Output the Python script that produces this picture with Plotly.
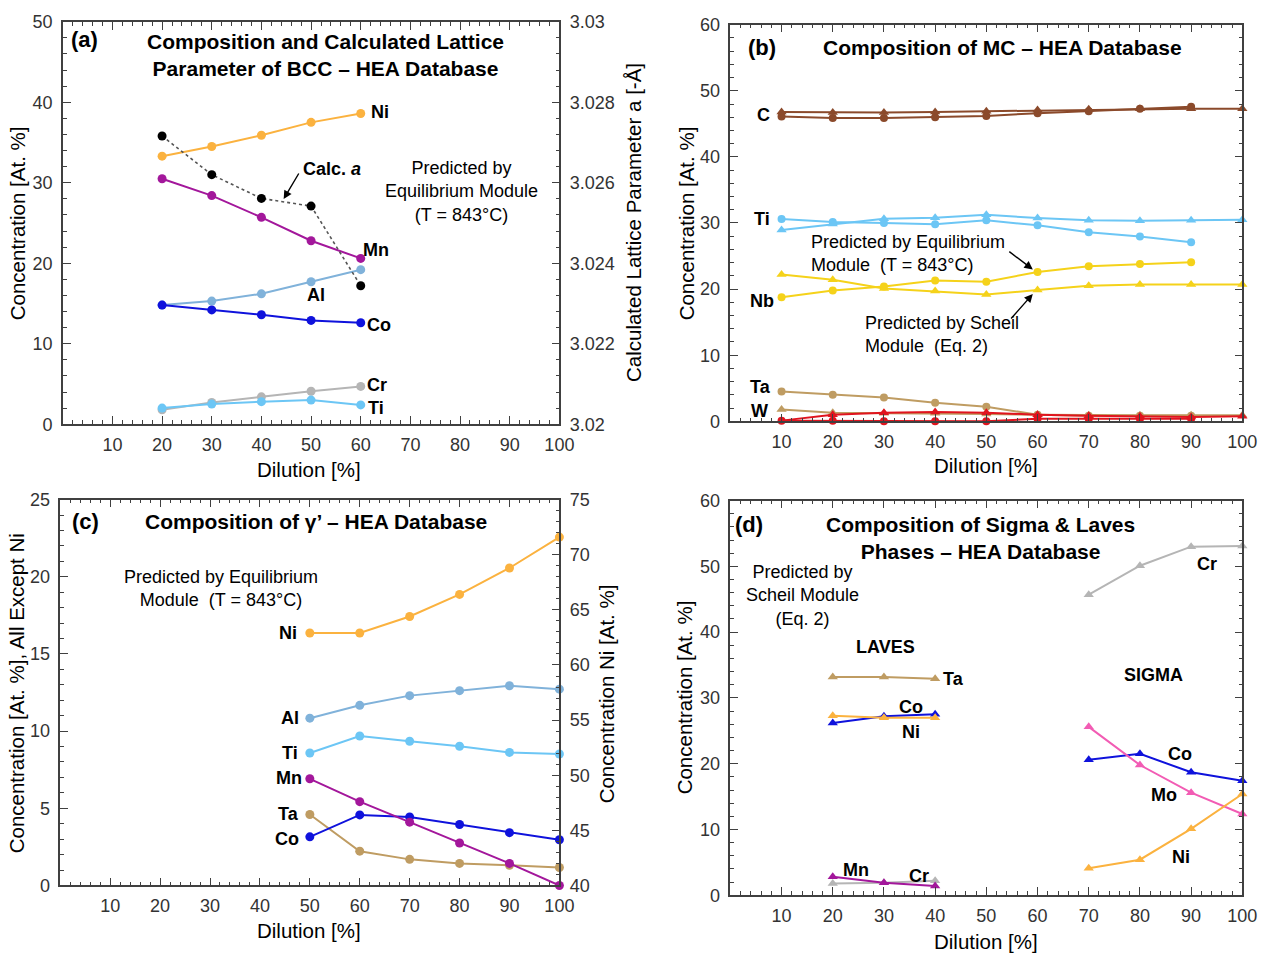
import plotly.graph_objects as go

W, H = 1284, 964
FONT = "Liberation Sans, Arial, sans-serif"

# ---------------- data ----------------
a_x = [20, 30, 40, 50, 60]
a_Ni = [33.3, 34.5, 35.9, 37.5, 38.6]
a_Mn = [30.5, 28.4, 25.7, 22.8, 20.6]
a_Al = [14.8, 15.3, 16.2, 17.7, 19.2]
a_Co = [14.8, 14.2, 13.6, 12.9, 12.6]
a_Cr = [1.8, 2.7, 3.4, 4.1, 4.7]
a_Ti = [2.0, 2.5, 2.8, 3.0, 2.4]
a_lat = [3.02716, 3.02620, 3.02561, 3.02542, 3.02344]

b_x_eq = [10, 20, 30, 40, 50, 60, 70, 80, 90]
b_x_sch = [10, 20, 30, 40, 50, 60, 70, 80, 90, 100]
b_C_eq = [46.1, 45.9, 45.9, 46.0, 46.2, 46.6, 46.9, 47.3, 47.6]
b_C_sch = [46.8, 46.7, 46.7, 46.8, 46.9, 47.1, 47.2, 47.3, 47.3, 47.3]
b_Ti_eq = [30.6, 30.15, 30.0, 29.8, 30.4, 29.65, 28.6, 27.95, 27.1]
b_Ti_sch = [28.95, 29.85, 30.65, 30.8, 31.25, 30.75, 30.4, 30.35, 30.4, 30.5]
b_Nb_eq = [18.75, 19.8, 20.4, 21.3, 21.1, 22.6, 23.45, 23.8, 24.05]
b_Nb_sch = [22.2, 21.4, 20.1, 19.7, 19.2, 19.85, 20.5, 20.7, 20.7, 20.7]
b_Ta_eq = [4.5, 4.0, 3.6, 2.8, 2.2, 1.0, 0.85, 0.85, 0.85]
b_Ta_sch = [1.8, 1.3, 1.2, 1.2, 1.1, 1.0, 0.9, 0.9, 0.9, 0.9]
b_W_eq = [0.1, 0.1, 0.0, 0.0, 0.0, 0.4, 0.4, 0.4, 0.4]
b_W_sch = [0.1, 1.0, 1.3, 1.4, 1.3, 1.0, 0.85, 0.75, 0.65, 0.75]

c_x = [50, 60, 70, 80, 90, 100]
c_Ni = [62.9, 62.9, 64.4, 66.4, 68.8, 71.6]
c_Al = [10.84, 11.67, 12.3, 12.62, 12.94, 12.72]
c_Ti = [8.58, 9.68, 9.34, 9.02, 8.62, 8.52]
c_Mn = [6.91, 5.43, 4.1, 2.75, 1.43, 0.0]
c_Ta = [4.6, 2.22, 1.69, 1.43, 1.31, 1.16]
c_Co = [3.15, 4.57, 4.44, 3.95, 3.42, 2.96]

d_x_laves = [20, 30, 40]
d_Ta_L = [33.2, 33.2, 32.9]
d_Co_L = [26.2, 27.2, 27.5]
d_Ni_L = [27.3, 27.0, 27.0]
d_Mn_L = [2.8, 1.9, 1.4]
d_Cr_L = [1.8, 1.9, 2.2]
d_x_sigma = [70, 80, 90, 100]
d_Cr_S = [45.7, 50.1, 53.0, 53.1]
d_Co_S = [20.6, 21.5, 18.7, 17.4]
d_Mo_S = [25.6, 19.8, 15.6, 12.35]
d_Ni_S = [4.1, 5.4, 10.1, 15.4]

x_ticks = [10, 20, 30, 40, 50, 60, 70, 80, 90, 100]

# ---------------- colours ----------------
C_NI = "#FBB23F"
C_MN = "#A3179B"
C_AL = "#80B2DA"
C_CO = "#0F12DC"
C_CR = "#B5B5B5"
C_TI = "#6CC6F5"
C_C = "#8B4A2B"
C_NB = "#F5D21A"
C_TA = "#BF9C62"
C_W = "#E0141E"
C_MO = "#F25CB4"
AX = "#404040"

fig = go.Figure()


def line(x, y, color, xa, ya, symbol="circle", size=9, dash="solid", lcolor=None, width=2):
    fig.add_trace(go.Scatter(
        x=x, y=y, xaxis=xa, yaxis=ya, mode="lines+markers", cliponaxis=False,
        line=dict(color=lcolor or color, width=width, dash=dash),
        marker=dict(color=color, size=size, symbol=symbol),
        showlegend=False, hoverinfo="skip"))


# panel a
line(a_x, a_lat, "black", "x", "y2", dash="dot", lcolor="#555555", width=1.6)
line(a_x, a_Ni, C_NI, "x", "y")
line(a_x, a_Mn, C_MN, "x", "y")
line(a_x, a_Al, C_AL, "x", "y")
line(a_x, a_Co, C_CO, "x", "y")
line(a_x, a_Cr, C_CR, "x", "y")
line(a_x, a_Ti, C_TI, "x", "y")

# panel b
for xs, ys, col, sym in [
    (b_x_eq, b_C_eq, C_C, "circle"), (b_x_sch, b_C_sch, C_C, "triangle-up"),
    (b_x_eq, b_Ti_eq, C_TI, "circle"), (b_x_sch, b_Ti_sch, C_TI, "triangle-up"),
    (b_x_eq, b_Nb_eq, C_NB, "circle"), (b_x_sch, b_Nb_sch, C_NB, "triangle-up"),
    (b_x_eq, b_Ta_eq, C_TA, "circle"), (b_x_sch, b_Ta_sch, C_TA, "triangle-up"),
    (b_x_eq, b_W_eq, C_W, "circle"), (b_x_sch, b_W_sch, C_W, "triangle-up"),
]:
    line(xs, ys, col, "x2", "y3", symbol=sym, size=8 if sym == "circle" else 9)

# panel c
line(c_x, c_Ni, C_NI, "x3", "y5")
line(c_x, c_Al, C_AL, "x3", "y4")
line(c_x, c_Ti, C_TI, "x3", "y4")
line(c_x, c_Ta, C_TA, "x3", "y4")
line(c_x, c_Co, C_CO, "x3", "y4")
line(c_x, c_Mn, C_MN, "x3", "y4")

# panel d
T = "triangle-up"
line(d_x_laves, d_Ta_L, C_TA, "x4", "y6", symbol=T)
line(d_x_laves, d_Co_L, C_CO, "x4", "y6", symbol=T)
line(d_x_laves, d_Ni_L, C_NI, "x4", "y6", symbol=T)
line(d_x_laves, d_Cr_L, C_CR, "x4", "y6", symbol=T)
line(d_x_laves, d_Mn_L, C_MN, "x4", "y6", symbol=T)
line(d_x_sigma, d_Cr_S, C_CR, "x4", "y6", symbol=T)
line(d_x_sigma, d_Co_S, C_CO, "x4", "y6", symbol=T)
line(d_x_sigma, d_Mo_S, C_MO, "x4", "y6", symbol=T)
line(d_x_sigma, d_Ni_S, C_NI, "x4", "y6", symbol=T)


# ---------------- axes ----------------
def dom_x(l, r):
    return [l / W, r / W]


def dom_y(t, b):
    return [1 - b / H, 1 - t / H]


tickfont = dict(family=FONT, size=18, color="#333333")


def xax(domain, anchor):
    return dict(domain=domain, anchor=anchor, range=[0, 100], tickvals=x_ticks,
                showline=True, linecolor=AX, linewidth=1.5, mirror="ticks",
                ticks="inside", ticklen=8, tickcolor=AX, tickwidth=1.2,
                minor=dict(ticks="inside", dtick=2, ticklen=4, tickcolor=AX),
                showgrid=False, zeroline=False, tickfont=tickfont,
                ticklabelstandoff=3)


def yax(domain, anchor, rng, dtick, mdt, mirror="ticks", **kw):
    d = dict(domain=domain, anchor=anchor, range=rng, dtick=dtick, tick0=rng[0],
             showline=True, linecolor=AX, linewidth=1.5, mirror=mirror,
             ticks="inside", ticklen=8, tickcolor=AX, tickwidth=1.2,
             minor=dict(ticks="inside", dtick=mdt, ticklen=4, tickcolor=AX),
             showgrid=False, zeroline=False, tickfont=tickfont,
             ticklabelstandoff=5)
    d.update(kw)
    return d


A_X, A_Y = dom_x(63.5, 566), dom_y(12, 423)
B_X, B_Y = dom_x(739, 1257), dom_y(15, 420)
C_X, C_Y = dom_x(61, 566), dom_y(500, 894)
D_X, D_Y = dom_x(739, 1257), dom_y(501, 904)

fig.update_layout(
    width=W, height=H, margin=dict(l=0, r=0, t=0, b=0),
    paper_bgcolor="white", plot_bgcolor="white",
    font=dict(family=FONT, color="black"),
    xaxis=xax(A_X, "y"),
    yaxis=yax(A_Y, "x", [0, 50], 10, 2, mirror=False),
    yaxis2=yax(A_Y, "x", [3.02, 3.03], 0.002, 0.0004, mirror=False,
               overlaying="y", side="right",
               tickvals=[3.02, 3.022, 3.024, 3.026, 3.028, 3.03],
               ticktext=["3.02", "3.022", "3.024", "3.026", "3.028", "3.03"]),
    xaxis2=xax(B_X, "y3"),
    yaxis3=yax(B_Y, "x2", [0, 60], 10, 2),
    xaxis3=xax(C_X, "y4"),
    yaxis4=yax(C_Y, "x3", [0, 25], 5, 1, mirror=False),
    yaxis5=yax(C_Y, "x3", [40, 75], 5, 1, mirror=False, overlaying="y4", side="right"),
    xaxis4=xax(D_X, "y6"),
    yaxis6=yax(D_Y, "x4", [0, 60], 10, 2),
)

# ---------------- annotations ----------------
anns = []
LBL = 18     # element labels
NOTE = 18    # plain notes
TTL = 21     # panel titles
AXT = 20.5   # axis titles


def txt(px, py, text, size=17, bold=False, angle=0, xanchor="center", align="center"):
    t = f"<b>{text}</b>" if bold else text
    anns.append(dict(x=px / W, y=1 - py / H, xref="paper", yref="paper", text=t,
                     showarrow=False, xanchor=xanchor, yanchor="middle", align=align,
                     textangle=angle, font=dict(family=FONT, size=size, color="black")))


def arrow(x0, y0, x1, y1):
    anns.append(dict(x=x1 / W, y=1 - y1 / H, ax=x0 - x1, ay=y0 - y1,
                     xref="paper", yref="paper", axref="pixel", ayref="pixel",
                     text="", showarrow=True, arrowhead=2, arrowsize=1.2,
                     arrowwidth=1.4, arrowcolor="black"))


# axis titles
txt(18, 218, "Concentration [At. %]", size=AXT, angle=-90)
txt(641, 217, "Calculated Lattice Parameter a [-Å]", size=AXT, angle=-90)
txt(313, 469, "Dilution [%]", size=AXT)
txt(695, 218, "Concentration [At. %]", size=AXT, angle=-90)
txt(998, 465, "Dilution [%]", size=AXT)
txt(17, 698, "Concentration [At. %], All Except Ni", size=AXT, angle=-90)
txt(614, 698, "Concentration Ni [At. %]", size=AXT, angle=-90)
txt(313, 940, "Dilution [%]", size=AXT)
txt(693, 702, "Concentration [At. %]", size=AXT, angle=-90)
txt(998, 951, "Dilution [%]", size=AXT)

# panel a
txt(86, 30, "(a)", size=22, bold=True)
txt(329, 46, "Composition and Calculated Lattice<br>Parameter of BCC – HEA Database", size=TTL, bold=True)
txt(467, 185, "Predicted by<br>Equilibrium Module<br>(T = 843°C)", size=NOTE)
txt(336, 162, "Calc. <i>a</i>", size=LBL, bold=True)
arrow(303, 166, 287, 193)
for px, py, t in [(384, 104, "Ni"), (380, 245, "Mn"), (320, 291, "Al"),
                  (383, 322, "Co"), (381, 383, "Cr"), (380, 406, "Ti")]:
    txt(px, py, t, size=LBL, bold=True)

# panel b
txt(771, 38, "(b)", size=22, bold=True)
txt(1014, 38, "Composition of MC – HEA Database", size=TTL, bold=True)
for px, py, t in [(773, 107, "C"), (771, 213, "Ti"), (771, 297, "Nb"),
                  (769, 385, "Ta"), (768, 410, "W")]:
    txt(px, py, t, size=LBL, bold=True)
txt(819, 249, "Predicted by Equilibrium<br>Module  (T = 843°C)", size=NOTE, xanchor="left", align="left")
arrow(1020, 246, 1045, 265)
txt(873, 331, "Predicted by Scheil<br>Module  (Eq. 2)", size=NOTE, xanchor="left", align="left")
arrow(1022, 316, 1045, 290)

# panel c
txt(87, 522, "(c)", size=22, bold=True)
txt(320, 522, "Composition of γ’ – HEA Database", size=TTL, bold=True)
txt(224, 591, "Predicted by Equilibrium<br>Module  (T = 843°C)", size=NOTE)
for px, py, t in [(291, 636, "Ni"), (293, 723, "Al"), (293, 759, "Ti"),
                  (292, 784, "Mn"), (292, 821, "Ta"), (290, 847, "Co")]:
    txt(px, py, t, size=LBL, bold=True)

# panel d
txt(758, 525, "(d)", size=22, bold=True)
txt(992, 539, "Composition of Sigma & Laves<br>Phases – HEA Database", size=TTL, bold=True)
txt(812, 598, "Predicted by<br>Scheil Module<br>(Eq. 2)", size=NOTE)
txt(896, 651, "LAVES", size=LBL, bold=True)
txt(1167, 679, "SIGMA", size=LBL, bold=True)
for px, py, t in [(965, 683, "Ta"), (922, 712, "Co"), (922, 737, "Ni"),
                  (866, 878, "Mn"), (930, 884, "Cr"), (1221, 566, "Cr"),
                  (1194, 760, "Co"), (1178, 802, "Mo"), (1195, 865, "Ni")]:
    txt(px, py, t, size=LBL, bold=True)

fig.update_layout(annotations=anns)
fig.write_html("out.html")
